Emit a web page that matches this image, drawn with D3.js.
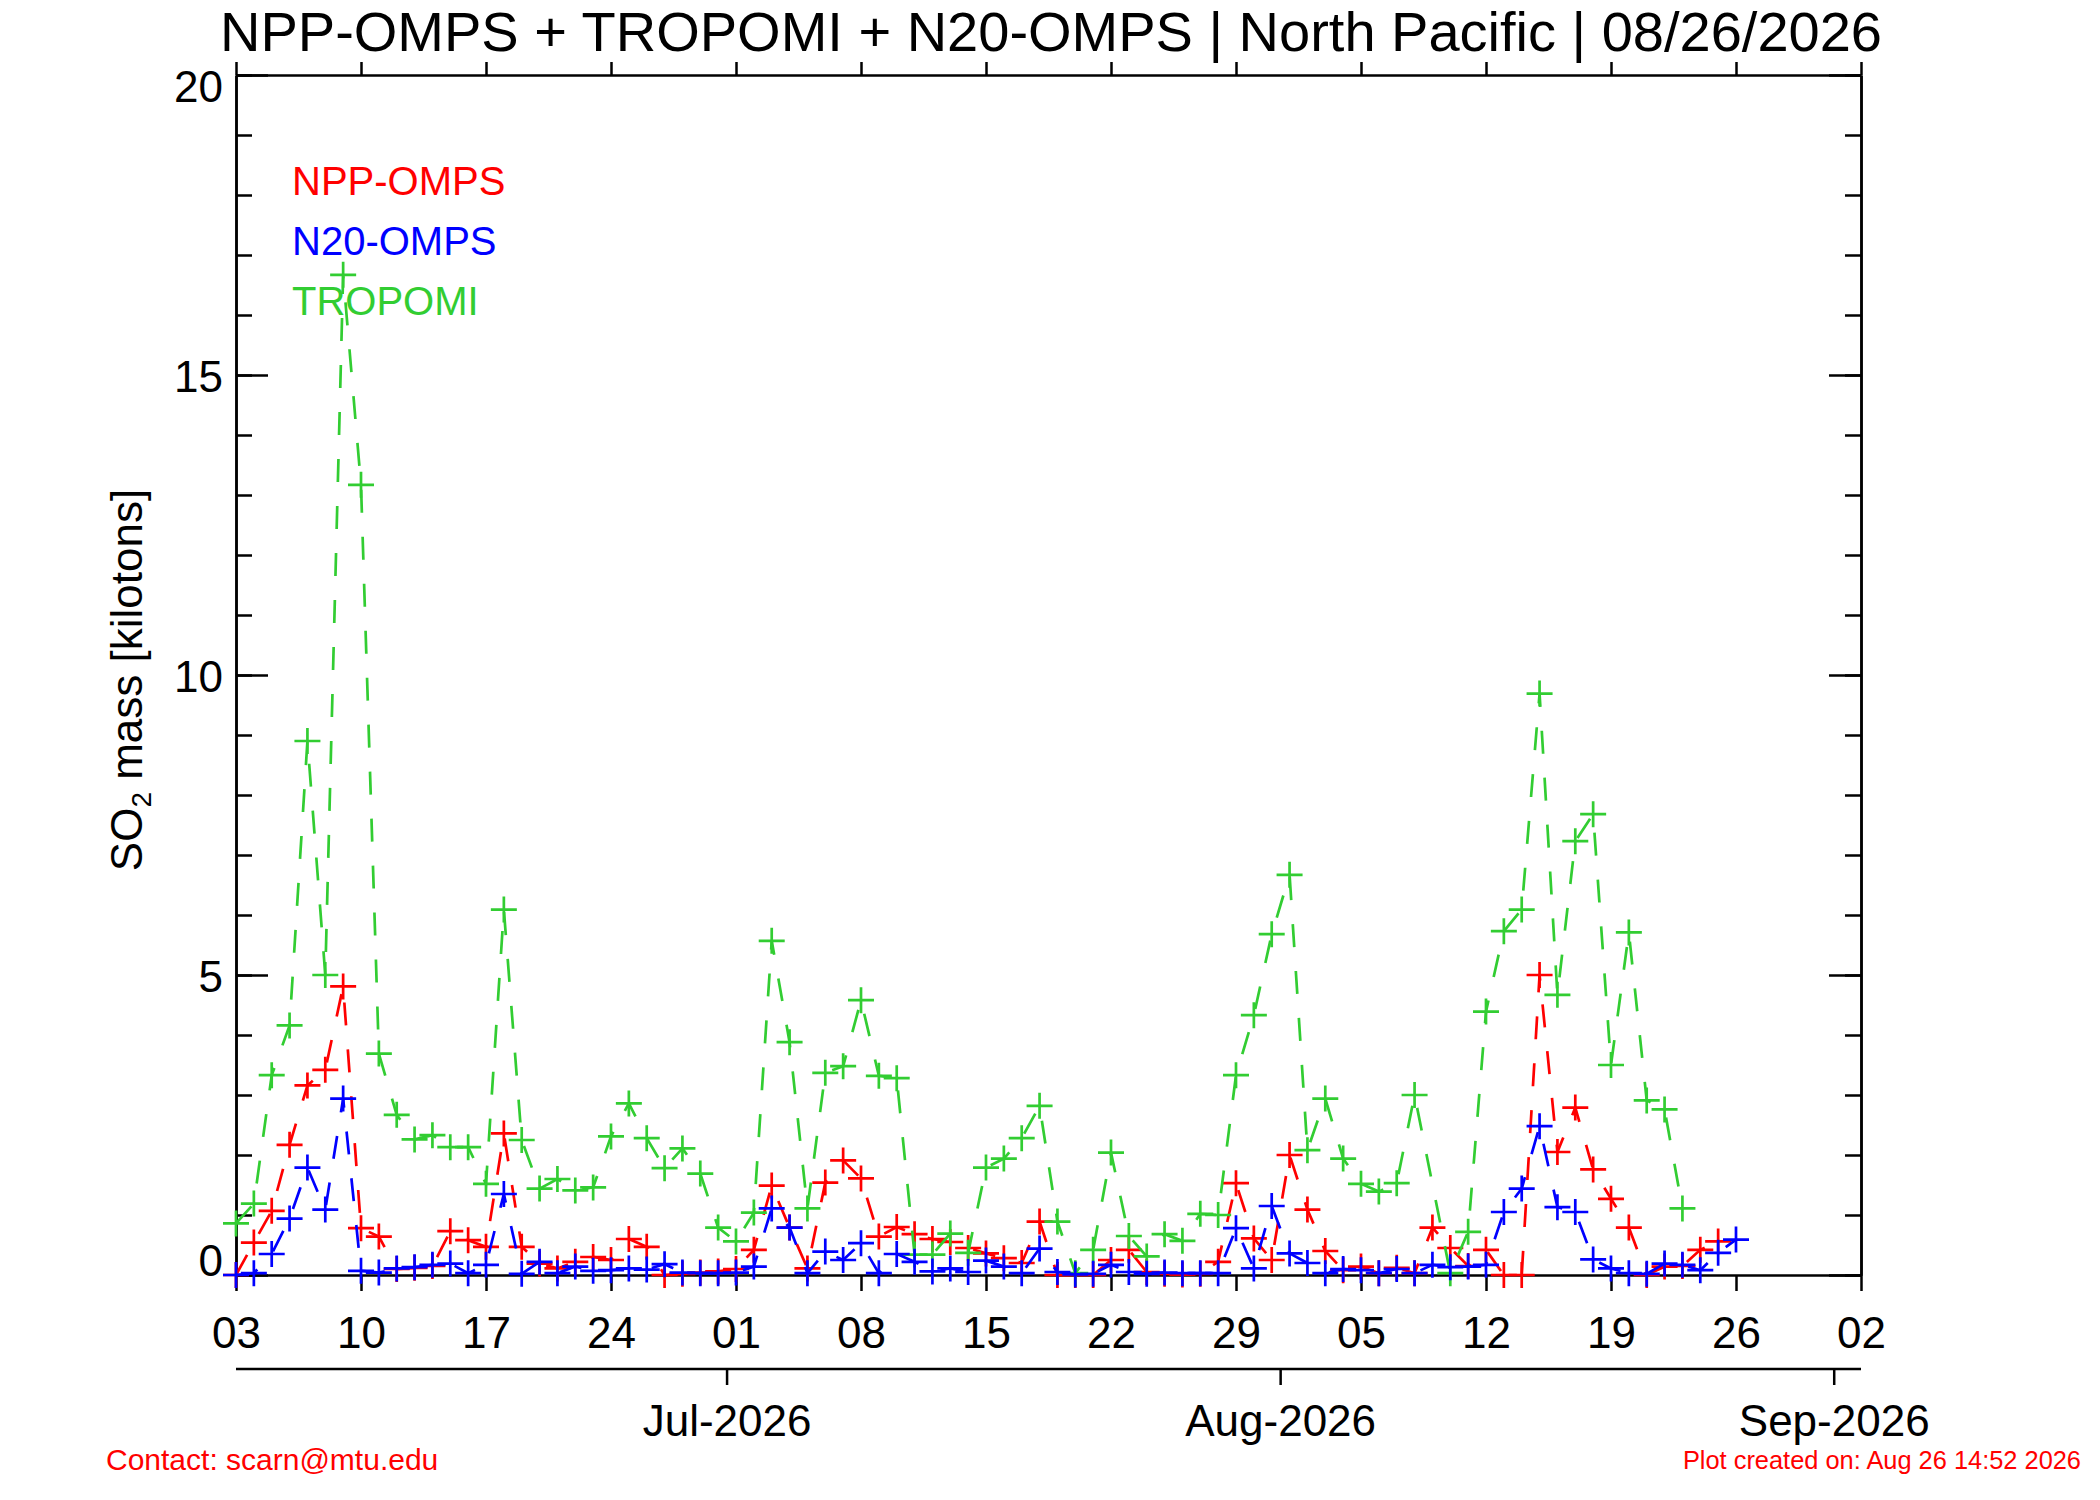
<!DOCTYPE html>
<html>
<head>
<meta charset="utf-8">
<script src="https://cdn.jsdelivr.net/npm/d3@7"></script>
<style>
  body { margin: 0; background: #fff; }
  text { font-family: "Liberation Sans", Arial, Helvetica, sans-serif; }
</style>
</head>
<body>
<div id="chart"></div>
<script>
// daily SO2 mass [kilotons], first value is 2026-06-03 (null = no retrieval)
var firstDay = "2026-06-03";

var nppOmps = [
  0, 0.54, 1.07, 2.17, 3.16, 3.42, 4.81, 0.78, 0.64, 0.1,
  0.12, 0.15, 0.73, 0.58, 0.47, 2.36, 0.47, 0.19, 0.11, 0.22,
  0.3, 0.25, 0.6, 0.47, 0, 0.02, 0.04, 0.06, 0.1, 0.42,
  1.49, 0.79, 0.11, 1.54, 1.91, 1.61, 0.64, 0.8, 0.68, 0.6,
  0.55, 0.45, 0.36, 0.28, 0.2, 0.89, 0, 0, 0, 0.25,
  0.42, 0.05, 0.02, 0.01, 0.02, 0.22, 1.53, 0.61, 0.25, 2.0,
  1.09, 0.4, 0.08, 0.14, 0.03, 0.12, 0.03, 0.79, 0.45, 0.15,
  0.42, 0, 0, 5.0, 2.05, 2.79, 1.76, 1.27, 0.79, 0,
  0.14, 0.15, 0.42, 0.56, null
];

var n20Omps = [
  0, 0.03, 0.35, 0.94, 1.79, 1.09, 2.94, 0.07, 0.04, 0.11,
  0.13, 0.17, 0.19, 0.03, 0.17, 1.35, 0.02, 0.22, 0.03, 0.14,
  0.07, 0.08, 0.11, 0.09, 0.18, 0.04, 0.03, 0.03, 0.04, 0.14,
  1.11, 0.79, 0.03, 0.39, 0.25, 0.53, 0.03, 0.35, 0.22, 0.06,
  0.11, 0.05, 0.24, 0.14, 0.03, 0.44, 0.05, 0.01, 0.02, 0.17,
  0.05, 0.02, 0.04, 0.03, 0.03, 0.03, 0.78, 0.11, 1.15, 0.36,
  0.2, 0.03, 0.1, 0.08, 0.03, 0.1, 0.03, 0.17, 0.13, 0.14,
  0.17, 1.05, 1.44, 2.48, 1.13, 1.05, 0.26, 0.11, 0.03, 0.02,
  0.19, 0.17, 0.08, 0.37, 0.59
];

var tropomi = [
  0.86, 1.19, 3.33, 4.16, 8.9, 5.0, 16.67, 13.17, 3.69, 2.67,
  2.26, 2.33, 2.13, 2.13, 1.52, 6.09, 2.25, 1.44, 1.6, 1.41,
  1.46, 2.31, 2.86, 2.28, 1.78, 2.11, 1.69, 0.79, 0.56, 1.04,
  5.57, 3.88, 1.11, 3.37, 3.48, 4.58, 3.32, 3.28, 0.34, 0.34,
  0.69, 0.37, 1.79, 1.94, 2.28, 2.82, 0.89, 0.03, 0.42, 2.04,
  0.65, 0.31, 0.68, 0.57, 1.02, 1.0, 3.33, 4.33, 5.68, 6.67,
  2.08, 2.94, 1.94, 1.52, 1.39, 1.53, 3.0, null, 0.03, 0.72,
  4.39, 5.73, 6.09, 9.69, 4.67, 7.23, 7.68, 3.5, 5.71, 2.91,
  2.76, 1.11, null, null, null
];

var yMajorTicks = [0, 5, 10, 15, 20];
var monthTicks = ["2026-07-01", "2026-08-01", "2026-09-01"];
var axisStart = "2026-06-03", axisEnd = "2026-09-02";

var titleText = "NPP-OMPS + TROPOMI + N20-OMPS | North Pacific | 08/26/2026";
var legendNames = ["NPP-OMPS", "N20-OMPS", "TROPOMI"];
var contactText = "Contact: scarn@mtu.edu";
var createdText = "Plot created on: Aug 26 14:52 2026";

draw();

function draw() {
  var w = 2100, h = 1500;
  var left = 236, right = 1861, top = 75, bottom = 1275;
  var parse = d3.utcParse("%Y-%m-%d");

  var svg = d3.select("#chart").append("svg")
    .attr("width", w)
    .attr("height", h)
    .style("display", "block");

  svg.append("rect").attr("width", w).attr("height", h).attr("fill", "white");

  var xScale = d3.scaleUtc()
    .domain([parse(axisStart), parse(axisEnd)])
    .range([left, right]);

  var yScale = d3.scaleLinear()
    .domain([0, 20])
    .range([bottom, top]);

  var days = d3.utcDay.range(parse(firstDay), d3.utcDay.offset(parse(firstDay), nppOmps.length));
  var weekTicks = d3.range(0, 14).map(function(i) { return d3.utcDay.offset(parse(axisStart), 7 * i); });
  var yMinorTicks = d3.range(0, 21);

  //title
  svg.append("text")
    .attr("x", 1051)
    .attr("y", 51)
    .attr("text-anchor", "middle")
    .style("font-size", "56px")
    .text(titleText);

  // x axis bottom (week ticks pointing out)
  var xb = svg.append("g")
    .attr("transform", "translate(0," + bottom + ")")
    .call(d3.axisBottom(xScale).tickValues(weekTicks).tickSizeInner(16).tickSizeOuter(0)
      .tickFormat(d3.utcFormat("%d")));
  xb.selectAll("text").attr("y", 73).attr("dy", null).style("font-size", "44px").attr("fill", "black");

  // x axis top
  svg.append("g")
    .attr("transform", "translate(0," + top + ")")
    .call(d3.axisTop(xScale).tickValues(weekTicks).tickSizeInner(13).tickSizeOuter(0).tickFormat(""));

  // y axis left + right, ticks inward
  svg.append("g")
    .attr("transform", "translate(" + left + ",0)")
    .call(d3.axisLeft(yScale).tickValues(yMinorTicks).tickSizeInner(-16).tickSizeOuter(0).tickFormat(""));
  var yl = svg.append("g")
    .attr("transform", "translate(" + left + ",0)")
    .call(d3.axisLeft(yScale).tickValues(yMajorTicks).tickSizeInner(-32).tickSizeOuter(0));
  yl.selectAll("text")
    .attr("x", -13)
    .attr("dy", null)
    .attr("y", function(d) { return Math.min(Math.max(yScale(d), top + 10), bottom - 16) - yScale(d) + 16; })
    .style("font-size", "44px").attr("fill", "black");

  svg.append("g")
    .attr("transform", "translate(" + right + ",0)")
    .call(d3.axisRight(yScale).tickValues(yMinorTicks).tickSizeInner(-16).tickSizeOuter(0).tickFormat(""));
  svg.append("g")
    .attr("transform", "translate(" + right + ",0)")
    .call(d3.axisRight(yScale).tickValues(yMajorTicks).tickSizeInner(-32).tickSizeOuter(0).tickFormat(""));

  // month axis below
  var monthScale = function(d) { return xScale(d3.utcHour.offset(parse(d), -12)); };
  var mg = svg.append("g").attr("transform", "translate(0,1369)");
  mg.append("line").attr("x1", left).attr("x2", right).attr("stroke", "black");
  mg.selectAll(".mt").data(monthTicks).enter().append("line")
    .attr("x1", monthScale).attr("x2", monthScale)
    .attr("y1", 0).attr("y2", 16)
    .attr("stroke", "black");
  mg.selectAll(".ml").data(monthTicks).enter().append("text")
    .attr("x", monthScale)
    .attr("y", 67)
    .attr("text-anchor", "middle")
    .style("font-size", "44px")
    .text(function(d) { return d3.utcFormat("%b-%Y")(parse(d)); });

  svg.selectAll(".domain, .tick line, g > line").attr("stroke", "black").attr("stroke-width", 2.5);

  // y axis label
  var yl2 = svg.append("text")
    .attr("transform", "translate(142,680)rotate(-90)")
    .attr("text-anchor", "middle")
    .style("font-size", "44px");
  yl2.append("tspan").text("SO");
  yl2.append("tspan").attr("dy", 9).style("font-size", "28px").text("2");
  yl2.append("tspan").attr("dy", -9).text(" mass [kilotons]");

  // series
  var series = [
    { name: legendNames[0], values: nppOmps, color: "#ff0000" },
    { name: legendNames[2], values: tropomi, color: "#32cd32" },
    { name: legendNames[1], values: n20Omps, color: "#0000ff" }
  ];

  var line = d3.line()
    .x(function(d) { return xScale(d.date); })
    .y(function(d) { return yScale(d.v); });

  series.forEach(function(s) {
    var pts = s.values.map(function(v, i) { return { date: days[i], v: v }; })
      .filter(function(d) { return d.v != null; });

    svg.append("path")
      .datum(pts)
      .attr("d", line)
      .style("fill", "none")
      .style("stroke", s.color)
      .style("stroke-width", 2.7)
      .style("stroke-dasharray", "23,24");

    svg.append("g").selectAll("path")
      .data(pts)
      .enter()
      .append("path")
      .attr("transform", function(d) { return "translate(" + xScale(d.date) + "," + yScale(d.v) + ")"; })
      .attr("d", "M-13,0H13M0,-13V13")
      .style("stroke", s.color)
      .style("stroke-width", 2.7);
  });

  //legend
  var legenddata = [
    { name: legendNames[0], color: "#ff0000", at: 18 },
    { name: legendNames[1], color: "#0000ff", at: 17 },
    { name: legendNames[2], color: "#32cd32", at: 16 }
  ];
  svg.selectAll(".legend")
    .data(legenddata)
    .enter()
    .append("text")
    .attr("x", 292)
    .attr("y", function(d) { return yScale(d.at); })
    .style("font-size", "40px")
    .attr("fill", function(d) { return d.color; })
    .text(function(d) { return d.name; });

  // footer
  svg.append("text")
    .attr("x", 106)
    .attr("y", 1470)
    .attr("fill", "#ff0000")
    .style("font-size", "30px")
    .text(contactText);

  svg.append("text")
    .attr("x", 2081)
    .attr("y", 1469)
    .attr("text-anchor", "end")
    .attr("fill", "#ff0000")
    .style("font-size", "25.4px")
    .text(createdText);
}
</script>
</body>
</html>
